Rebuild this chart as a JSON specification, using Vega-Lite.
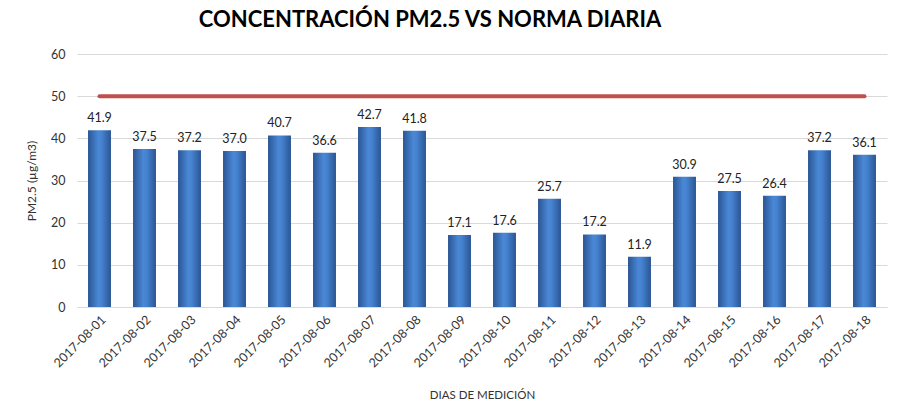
{
  "$schema": "https://vega.github.io/schema/vega-lite/v6.json",
  "autosize": {"type": "none"},
  "width": 810,
  "height": 253,
  "padding": {"left": 77, "top": 54, "right": 12, "bottom": 107},
  "background": "white",
  "title": {"text": "CONCENTRACIÓN PM2.5 VS NORMA DIARIA", "font": "Lato", "fontSize": 22, "fontWeight": "bold", "color": "#000000", "anchor": "middle", "dx": -52, "offset": 16},
  "config": {
    "view": {"stroke": null},
    "font": "Lato",
    "axis": {"labelFont": "Lato", "titleFont": "Lato", "labelColor": "#333333", "titleColor": "#333333", "labelFontSize": 12.5, "titleFontSize": 12, "titleFontWeight": "normal", "ticks": false, "gridColor": "#d9d9d9", "domainColor": "#d9d9d9"}
  },
  "data": {"values": [
    {"fecha": "2017-08-01", "pm25": 41.9, "norma": 50},
    {"fecha": "2017-08-02", "pm25": 37.5, "norma": 50},
    {"fecha": "2017-08-03", "pm25": 37.2, "norma": 50},
    {"fecha": "2017-08-04", "pm25": 37.0, "norma": 50},
    {"fecha": "2017-08-05", "pm25": 40.7, "norma": 50},
    {"fecha": "2017-08-06", "pm25": 36.6, "norma": 50},
    {"fecha": "2017-08-07", "pm25": 42.7, "norma": 50},
    {"fecha": "2017-08-08", "pm25": 41.8, "norma": 50},
    {"fecha": "2017-08-09", "pm25": 17.1, "norma": 50},
    {"fecha": "2017-08-10", "pm25": 17.6, "norma": 50},
    {"fecha": "2017-08-11", "pm25": 25.7, "norma": 50},
    {"fecha": "2017-08-12", "pm25": 17.2, "norma": 50},
    {"fecha": "2017-08-13", "pm25": 11.9, "norma": 50},
    {"fecha": "2017-08-14", "pm25": 30.9, "norma": 50},
    {"fecha": "2017-08-15", "pm25": 27.5, "norma": 50},
    {"fecha": "2017-08-16", "pm25": 26.4, "norma": 50},
    {"fecha": "2017-08-17", "pm25": 37.2, "norma": 50},
    {"fecha": "2017-08-18", "pm25": 36.1, "norma": 50}
  ]},
  "encoding": {
    "x": {"field": "fecha", "type": "nominal", "sort": null, "scale": {"paddingInner": 0.49, "paddingOuter": 0.245},
      "axis": {"title": "DIAS DE MEDICIÓN", "labelAngle": -45, "labelPadding": 6, "titlePadding": 20, "titleFontSize": 11.5, "grid": false, "domain": true}}
  },
  "layer": [
    {
      "mark": {"type": "bar", "color": {"gradient": "linear", "x1": 0, "x2": 1, "y1": 0, "y2": 0, "stops": [
        {"offset": 0, "color": "#2a5593"},
        {"offset": 0.45, "color": "#4a88d6"},
        {"offset": 0.6, "color": "#4582cf"},
        {"offset": 1, "color": "#2a5593"}]}},
      "encoding": {
        "y": {"field": "pm25", "type": "quantitative", "scale": {"domain": [0, 60]},
          "axis": {"title": "PM2.5 (µg/m3)", "values": [0, 10, 20, 30, 40, 50, 60], "grid": true, "domain": false, "labelPadding": 12, "titlePadding": 12}}
      }
    },
    {
      "mark": {"type": "text", "dy": -12, "fontSize": 12.5, "color": "#222222", "font": "Lato"},
      "encoding": {
        "y": {"field": "pm25", "type": "quantitative"},
        "text": {"field": "pm25", "type": "quantitative", "format": ".1f"}
      }
    },
    {
      "mark": {"type": "line", "color": "#c0504d", "strokeWidth": 4, "strokeCap": "round"},
      "encoding": {
        "y": {"field": "norma", "type": "quantitative"}
      }
    }
  ]
}
